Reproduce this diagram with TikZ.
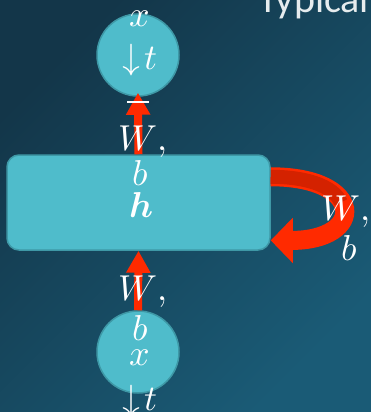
\documentclass[tikz,border=0pt]{standalone}
\usepackage{fontspec}
\usepackage{unicode-math}
\setmathfont{Latin Modern Math}
\newfontfamily\slidefont{Carlito}
\usetikzlibrary{
	arrows.meta,
	positioning,
	calc
}
\definecolor{bgdark}{HTML}{133649}
\definecolor{bglight}{HTML}{1A5B76}
\definecolor{cellfill}{HTML}{4FBCCB}
\definecolor{cellline}{HTML}{3E98A6}
\definecolor{redarrow}{HTML}{FF2A00}
\definecolor{reddark}{HTML}{D42200}
\definecolor{titlegray}{HTML}{E6ECEE}

\begin{document}
\begin{tikzpicture}[
		x=1pt, y=-1pt,
		cell/.style={draw=cellline, line width=1.5pt, fill=cellfill},
		unit/.style={cell, circle, minimum size=82pt, inner sep=0pt},
		layer/.style={cell, rounded corners=12pt, minimum width=263pt, minimum height=95pt},
		lbl/.style={text=white, inner sep=0pt, anchor=base, font=\fontsize{36}{42}\selectfont},
		weight/.style={draw=redarrow, line width=8pt, -{Triangle[width=23pt,length=22pt]}}
		]
		
		% =========================
		% Slide background
		% =========================
		\shade[left color=bgdark, right color=bglight, shading angle=45] (0,0) rectangle (371,412);
		\useasboundingbox (0,0) rectangle (371,412);
		\clip (0,0) rectangle (371,412);
		
		\node[anchor=base west, inner sep=0pt, text=titlegray, font=\slidefont\fontsize{40}{48}\selectfont] (title) at (258,13) {Typical};
		
		% =========================
		% Input, hidden layer, output
		% =========================
		\node[unit] (xtop) at (138,55) {};
		\node[layer] (h) at (138.5,202.5) {};
		\node[unit] (xbot) at (138,352) {};
		
		% =========================
		% Arrows: input -> h -> output, recurrence on h
		% =========================
		\draw[weight] (xbot.north) -- (h.south);
		\draw[weight, shorten >=-4pt] (h.north) -- (xtop.south);
		\draw[white, line width=1.5pt] ($(xtop.south)+(-11,5)$) -- ($(xtop.south)+(11,5)$);
		
		\draw[weight, line width=19pt, -{Triangle[width=44pt,length=22pt]}] (h.11) .. controls +(95,0) and +(95,0) .. (h.-16);
		\draw[reddark, line width=14pt, dash pattern=on 78pt off 600pt] (h.11) .. controls +(95,0) and +(95,0) .. (h.-16);
		
		% =========================
		% Labels
		% =========================
		\node[lbl] (xtopname) at (140,27) {$x$};
		\node[lbl] (xtopstep) at (140,70) {$\downarrow\!t$};
		
		\node[lbl] (wtop) at (143,150) {$W,$};
		\node[lbl] (btop) at (140,185) {$b$};
		\node[lbl] (hname) at (142,217) {$\symbfit{h}$};
		
		\node[lbl] (wloop) at (346,220) {$W,$};
		\node[lbl] (bloop) at (349,260) {$b$};
		
		\node[lbl] (wbot) at (143,300) {$W,$};
		\node[lbl] (bbot) at (140,340) {$b$};
		\node[lbl] (xbotname) at (140,365) {$x$};
		\node[lbl] (xbotstep) at (140,410) {$\downarrow\!t$};
		
	\end{tikzpicture}
\end{document}
